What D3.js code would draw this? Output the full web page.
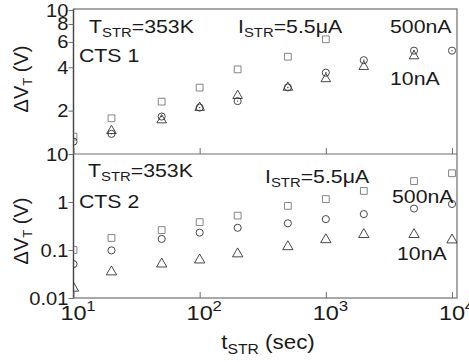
<!DOCTYPE html>
<html>
<head>
<meta charset="utf-8">
<script src="https://cdn.jsdelivr.net/npm/d3@7"></script>
<style>
  html, body { margin: 0; padding: 0; background: #fff; }
  svg { display: block; }
  text { font-family: "Liberation Sans", Arial, sans-serif; fill: #1a1a1a; }
</style>
</head>
<body>
<svg id="chart" width="469" height="362"></svg>
<script>
// Stress times (s)
const times = [10, 20, 50, 100, 200, 500, 1000, 2000, 5000, 10000];

// CTS 1 — threshold voltage shift (V)
const cts1Square = [1.32, 1.77, 2.31, 2.89, 3.87, 4.74, 6.26, null, null, null];
const cts1Circle = [1.22, 1.38, 1.82, 2.10, 2.33, 2.90, 3.67, 4.48, 5.22, 5.22];
const cts1Triangle = [null, 1.45, 1.72, 2.10, 2.54, 2.90, 3.32, 4.04, 4.79, null];

// CTS 2 — threshold voltage shift (V)
const cts2Square = [0.10, 0.178, 0.26, 0.38, 0.52, 0.83, 1.15, 1.70, 2.73, 3.97];
const cts2Circle = [0.051, 0.098, 0.17, 0.23, 0.29, 0.36, 0.44, 0.56, 0.73, 0.91];
const cts2Triangle = [0.016, 0.035, 0.051, 0.062, 0.083, 0.117, 0.164, 0.21, 0.21, 0.162];

// Axis ticks
const xTicks = [10, 100, 1000, 10000];
const xExponents = ["1", "2", "3", "4"];
const topYTicks = [2, 4, 6, 8, 10];
const topYLabels = ["2", "4", "6", "8", "10"];
const botYTicks = [0.01, 0.1, 1, 10];
const botYLabels = ["0.01", "0.1", "1", "10"];

const svg = d3.select("#chart");
const SX = 1.12; // horizontal stretch of the lettering

const plotLeft = 73.5, plotRight = 457, xEnd = 452;
const plotTop = 9, plotMid = 154, plotBottom = 298;

const x = d3.scaleLog().domain([10, 10000]).range([plotLeft, xEnd]);
const yTop = d3.scaleLog().domain([1, 10]).range([plotMid, plotTop + 1]);
const yBot = d3.scaleLog().domain([0.01, 10]).range([plotBottom, plotMid]);

const axisColor = "#6e6e6e";

// clip regions for each panel
const defs = svg.append("defs");
defs.append("clipPath").attr("id", "clipTop").append("rect")
  .attr("x", plotLeft).attr("y", plotTop).attr("width", plotRight - plotLeft).attr("height", plotMid - plotTop);
defs.append("clipPath").attr("id", "clipBot").append("rect")
  .attr("x", plotLeft).attr("y", plotMid).attr("width", plotRight - plotLeft).attr("height", plotBottom - plotMid);

// frame
svg.append("rect").attr("x", plotLeft).attr("y", plotTop)
  .attr("width", plotRight - plotLeft).attr("height", plotBottom - plotTop)
  .attr("fill", "none").attr("stroke", axisColor).attr("stroke-width", 1.2);
svg.append("line").attr("x1", plotLeft).attr("x2", plotRight).attr("y1", plotMid).attr("y2", plotMid)
  .attr("stroke", axisColor).attr("stroke-width", 1.2);
svg.append("line").attr("x1", plotLeft).attr("x2", plotLeft).attr("y1", plotTop).attr("y2", plotBottom)
  .attr("stroke", "#444").attr("stroke-width", 1.3);

// x minor + major ticks on both panel bottoms (pointing inward)
const xMinor = [];
for (let d = 10; d < 10000; d *= 10) for (let k = 2; k <= 9; k++) xMinor.push(d * k);
[plotMid, plotBottom].forEach(yy => {
  const g = svg.append("g").attr("transform", `translate(0,${yy})`);
  g.call(d3.axisTop(x).tickValues(xMinor).tickSize(3).tickFormat(""));
  g.call(d3.axisTop(x).tickValues(xTicks).tickSize(6).tickFormat(""));
  g.selectAll(".domain").remove();
  g.selectAll("line").attr("stroke", axisColor);
});

// y axes: ticks outward
function yAxis(scale, majors, minors, labels) {
  const g = svg.append("g").attr("transform", `translate(${plotLeft},0)`);
  g.call(d3.axisLeft(scale).tickValues(minors).tickSize(2.5).tickFormat(""));
  g.call(d3.axisLeft(scale).tickValues(majors).tickSize(5).tickFormat(""));
  g.selectAll(".domain").remove();
  g.selectAll("line").attr("stroke", axisColor);
  majors.forEach((v, i) => {
    svg.append("text")
      .attr("transform", `translate(${plotLeft - 5},${scale(v) + 6.5}) scale(${SX},1)`)
      .attr("text-anchor", "end").attr("font-size", 18)
      .text(labels[i]);
  });
}
const topMinor = [];
for (let v = 1; v <= 10.001; v += (v >= 5 ? 0.25 : 0.5)) topMinor.push(+v.toFixed(2));
yAxis(yTop, topYTicks, topMinor, topYLabels);
const botMinor = [];
for (let d = 0.01; d < 10; d *= 10) for (let k = 2; k <= 9; k++) botMinor.push(+(d * k).toPrecision(3));
yAxis(yBot, botYTicks, botMinor, botYLabels);

// x tick labels 10^n
xTicks.forEach((v, i) => {
  const g = svg.append("g").attr("transform", `translate(${x(v)},320) scale(${SX},1)`);
  g.append("text").attr("text-anchor", "middle").attr("font-size", 21).text("10");
  g.append("text").attr("x", 11.5).attr("y", -9).attr("font-size", 15).text(xExponents[i]);
});

// markers
function drawSeries(clip, scale, vals, type, size, color, dot) {
  const g = svg.append("g").attr("clip-path", `url(#${clip})`);
  const pts = times.map((t, i) => ({ t, v: vals[i] })).filter(d => d.v != null);
  g.selectAll("path").data(pts).join("path")
    .attr("transform", d => `translate(${x(d.t)},${scale(d.v)})`)
    .attr("d", d3.symbol().type(type).size(size))
    .attr("fill", "none").attr("stroke", color).attr("stroke-width", 0.9);
  if (dot) {
    g.selectAll("circle").data(pts).join("circle")
      .attr("cx", d => x(d.t)).attr("cy", d => scale(d.v)).attr("r", 0.7)
      .attr("fill", color);
  }
}
drawSeries("clipTop", yTop, cts1Square, d3.symbolSquare, 46, "#777", false);
drawSeries("clipTop", yTop, cts1Triangle, d3.symbolTriangle, 40, "#333", false);
drawSeries("clipTop", yTop, cts1Circle, d3.symbolCircle, 40, "#333", true);
drawSeries("clipBot", yBot, cts2Square, d3.symbolSquare, 46, "#777", false);
drawSeries("clipBot", yBot, cts2Circle, d3.symbolCircle, 40, "#333", false);
drawSeries("clipBot", yBot, cts2Triangle, d3.symbolTriangle, 46, "#333", false);

// text with subscripts: parts = [[text, isSub], ...]
function label(xp, yp, parts, size, anchor) {
  const t = svg.append("text")
    .attr("transform", `translate(${xp},${yp}) scale(${SX},1)`)
    .attr("font-size", size).attr("text-anchor", anchor || "start");
  let lowered = false;
  parts.forEach(([s, sub]) => {
    const sp = t.append("tspan").text(s);
    if (sub && !lowered) { sp.attr("dy", 4).attr("font-size", size * 0.7); lowered = true; }
    else if (!sub && lowered) { sp.attr("dy", -4); lowered = false; }
    else if (sub) sp.attr("font-size", size * 0.7);
  });
  return t;
}

// panel annotations
label(89, 33, [["T"], ["STR", true], ["=353K"]], 19);
label(238, 33, [["I"], ["STR", true], ["=5.5μA"]], 19);
label(390, 33, [["500nA"]], 19);
label(79, 62, [["CTS 1"]], 19);
label(390, 85, [["10nA"]], 19);

label(88, 177, [["T"], ["STR", true], ["=353K"]], 19);
label(265, 183, [["I"], ["STR", true], ["=5.5μA"]], 19);
label(79, 208, [["CTS 2"]], 19);
label(392, 203, [["500nA"]], 19);
label(397, 260, [["10nA"]], 19);

// axis titles
function yTitle(cy) {
  const t = svg.append("text")
    .attr("transform", `translate(28,${cy}) rotate(-90)`)
    .attr("text-anchor", "middle").attr("font-size", 20);
  t.append("tspan").text("ΔV");
  t.append("tspan").text("T").attr("dy", 4).attr("font-size", 13);
  t.append("tspan").text(" (V)").attr("dy", -4);
}
yTitle(79);
yTitle(231);

const xt = svg.append("text")
  .attr("transform", `translate(268,349) scale(${SX},1)`)
  .attr("text-anchor", "middle").attr("font-size", 20);
xt.append("tspan").text("t");
xt.append("tspan").text("STR").attr("dy", 5).attr("font-size", 14);
xt.append("tspan").text(" (sec)").attr("dy", -5);
</script>
</body>
</html>
